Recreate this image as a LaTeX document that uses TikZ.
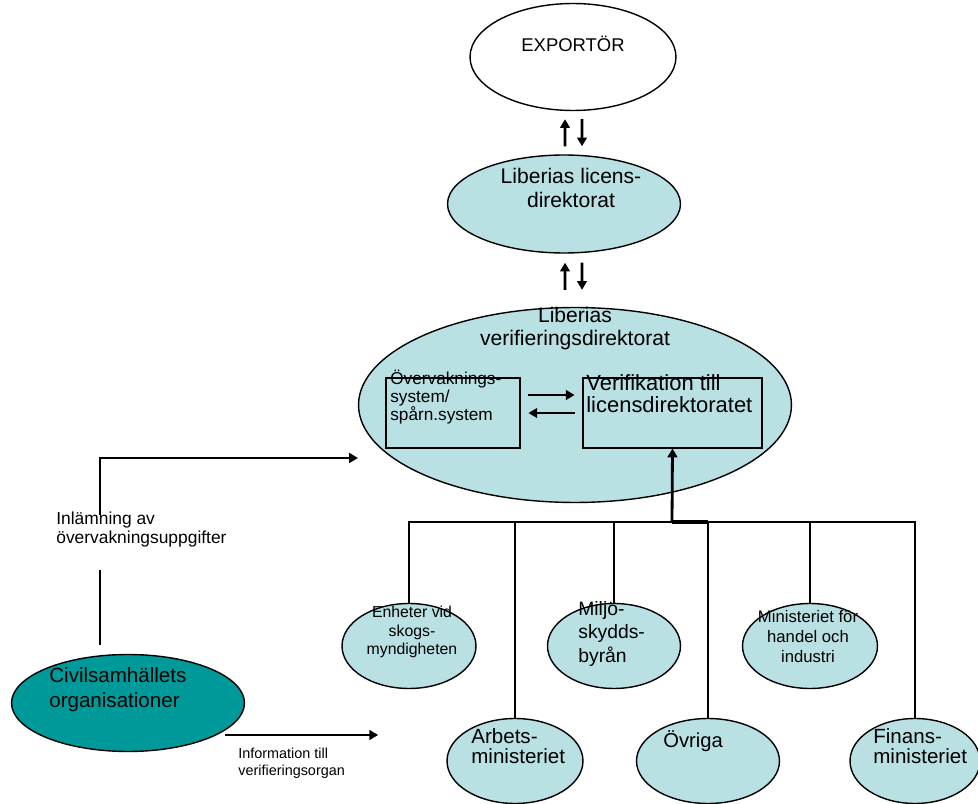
\documentclass[tikz,border=0pt]{standalone}
\usepackage{fontspec}
\setmainfont{Liberation Sans}
\usepackage{xcolor}
\usetikzlibrary{arrows.meta, positioning, shapes.geometric}
\definecolor{paleblue}{RGB}{185,224,227}
\definecolor{darkteal}{RGB}{0,153,153}
\newcommand{\fs}[2]{\fontsize{#1}{#2}\selectfont}

\begin{document}
\begin{tikzpicture}[
  x=0.02cm, y=-0.02cm,
  oval/.style={ellipse, draw, line width=0.8pt, fill=paleblue, inner sep=0pt},
  sysbox/.style={rectangle, draw, line width=0.6pt, fill=paleblue, inner sep=0pt,
                 minimum width=2.68cm, minimum height=1.4cm},
  lbl/.style={inner sep=0pt, align=center},
  lbll/.style={inner sep=0pt, align=left},
  arrow/.style={-{Triangle[length=5pt, width=5.5pt]}, line width=1.6pt},
  link/.style={line width=1.4pt},
]
  \useasboundingbox (0,0) rectangle (978,804);

  % top chain
  \node[oval, fill=white, minimum width=4.12cm, minimum height=2.14cm] (ex) at (573,57) {};
  \node[lbl, font=\fs{10.5}{12}, anchor=base] (ex-t) at (573,52) {EXPORTÖR};

  \node[oval, minimum width=4.66cm, minimum height=1.96cm] (lic) at (564,204) {};
  \node[lbl, font=\fs{12}{13.6}, anchor=north] (lic-t) at (571,168) {Liberias licens-\\direktorat};

  \node[oval, minimum width=8.66cm, minimum height=3.9cm] (ver) at (575,405) {};
  \node[lbl, font=\fs{12}{13}, anchor=north] (ver-t) at (575,307) {Liberias\\verifieringsdirektorat};

  \node[sysbox] (sys) at (453,413) {};
  \node[lbll, font=\fs{9.8}{10.2}, anchor=north west] (sys-t) at (390,370) {Övervaknings-\\system/\\spårn.system};
  \node[sysbox, minimum width=3.58cm] (vlic) at (672.5,413) {};
  \node[lbll, font=\fs{12.5}{12.5}, anchor=north west] (vlic-t) at (586,374) {Verifikation till\\licensdirektoratet};

  \draw[arrow] ([xshift=0.02cm, yshift=0.16cm]lic.north) -- ([xshift=-0.16cm, yshift=-0.16cm]ex.south);
  \draw[arrow] ([xshift=0.18cm, yshift=-0.16cm]ex.south) -- ([xshift=0.36cm, yshift=0.16cm]lic.north);
  \draw[arrow] ([xshift=-0.2cm, yshift=0.34cm]ver.north) -- ([xshift=0.02cm, yshift=-0.18cm]lic.south);
  \draw[arrow] ([xshift=0.36cm, yshift=-0.18cm]lic.south) -- ([xshift=0.14cm, yshift=0.34cm]ver.north);

  \draw[arrow, shorten <=4.5pt, shorten >=4.5pt] ([yshift=0.36cm]sys.east) -- ([yshift=0.36cm]vlic.west);
  \draw[arrow, shorten <=4.5pt, shorten >=4.5pt] (vlic.west) -- (sys.east);

  % bodies
  \node[oval, minimum width=2.68cm, minimum height=1.7cm] (enh) at (409,646) {};
  \node[lbl, font=\fs{9}{10.5}, anchor=north] (enh-t) at (412,606) {Enheter vid\\skogs-\\myndigheten};
  \node[oval, minimum width=2.66cm, minimum height=1.7cm] (mil) at (614,646) {};
  \node[lbll, font=\fs{11}{13.3}, anchor=north west] (mil-t) at (578,601) {Miljö-\\skydds-\\byrån};
  \node[oval, minimum width=2.7cm, minimum height=1.7cm] (han) at (810,646) {};
  \node[lbl, font=\fs{9.5}{11.3}, anchor=north] (han-t) at (808,610) {Ministeriet för\\handel och\\industri};

  \node[oval, minimum width=2.72cm, minimum height=1.7cm] (arb) at (515,761) {};
  \node[lbll, font=\fs{11.7}{11.3}, anchor=north west] (arb-t) at (471,728) {Arbets-\\ministeriet};
  \node[oval, minimum width=2.86cm, minimum height=1.7cm] (ovr) at (708,761) {};
  \node[lbll, font=\fs{11.5}{11.3}, anchor=north west] (ovr-t) at (663,730) {Övriga};
  \node[oval, minimum width=2.6cm, minimum height=1.7cm] (fin) at (915,761) {};
  \node[lbll, font=\fs{11.7}{11.3}, anchor=north west] (fin-t) at (873,728) {Finans-\\ministeriet};

  \coordinate (hub) at (672,522);
  \draw[link] (enh.north) -- (enh.north |- hub) -- (fin.north |- hub) -- (fin.north);
  \foreach \n in {arb, mil, ovr, han}
    \draw[link] (\n.north) -- (\n.north |- hub);
  \draw[line width=2.4pt] (hub) -- (ovr.north |- hub);
  \draw[arrow] (hub) -- (vlic.south);

  % civil society
  \node[oval, fill=darkteal, minimum width=4.66cm, minimum height=1.94cm] (civ) at (128,703) {};
  \node[lbll, font=\fs{11.7}{14.2}, anchor=north west] (civ-t) at (49,667) {Civilsamhällets\\organisationer};

  \node[lbll, font=\fs{9.9}{10.3}, anchor=north west] (inl) at (56,512) {Inlämning av\\övervakningsuppgifter};
  \coordinate (c1) at (100,645);
  \coordinate (c2) at (100,570);
  \coordinate (c3) at (100,515);
  \coordinate (in) at (358,458);
  \draw[link] (c1) -- (c2);
  \draw[arrow] (c3) |- (in);

  \draw[arrow] ([xshift=-0.4cm, yshift=-0.64cm]civ.east) -- ++(153,0) coordinate (out);
  \node[lbll, font=\fs{8.2}{9.5}, anchor=north west] (info) at (238,748) {Information till\\verifieringsorgan};
\end{tikzpicture}
\end{document}
